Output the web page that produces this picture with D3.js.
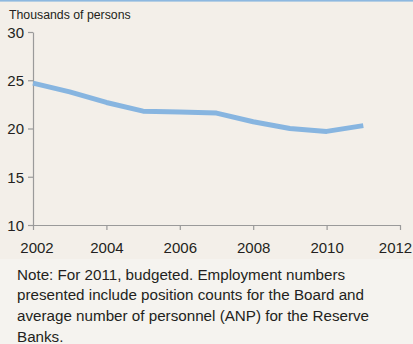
<!DOCTYPE html>
<html>
<head>
<meta charset="utf-8">
<script src="https://cdn.jsdelivr.net/npm/d3@7"></script>
<style>
  body { margin: 0; background: #F5F3EF; }
  svg { display: block; font-family: "Liberation Sans", Arial, sans-serif; }
  .axis path, .axis line { stroke: #9a9a9a; stroke-width: 1.2; }
  .axis text { fill: #231f20; font-size: 15px; }
</style>
</head>
<body>
<script>
var width = 413, height = 344;

var years = [2002, 2003, 2004, 2005, 2006, 2007, 2008, 2009, 2010, 2011];
var persons = [24.7, 23.8, 22.7, 21.8, 21.7, 21.6, 20.7, 20.0, 19.7, 20.3];
var xTicks = [2002, 2004, 2006, 2008, 2010, 2012];
var yTicks = [10, 15, 20, 25, 30];
var unitLabel = "Thousands of persons";
var noteLines = [
  "Note: For 2011, budgeted. Employment numbers",
  "presented include position counts for the Board and",
  "average number of personnel (ANP) for the Reserve",
  "Banks."
];

var svg = d3.select("body").append("svg")
  .attr("width", width)
  .attr("height", height);

// chart panel background + top rule
svg.append("rect").attr("x", 0).attr("y", 0)
  .attr("width", width).attr("height", 259).attr("fill", "#F3EFE9");
svg.append("rect").attr("x", 0).attr("y", 0)
  .attr("width", width).attr("height", 1.6).attr("fill", "#8DB8E0");

var x = d3.scaleLinear().domain([2002, 2012]).range([33, 400]);
var y = d3.scaleLinear().domain([10, 30]).range([225, 32]);

svg.append("text")
  .attr("x", 9).attr("y", 19)
  .attr("font-size", 12.3).attr("fill", "#231f20")
  .text(unitLabel);

svg.append("g").attr("class", "axis")
  .attr("transform", "translate(33,0)")
  .call(d3.axisLeft(y).tickValues(yTicks).tickSize(5).tickPadding(4)
    .tickFormat(d3.format("d")).tickSizeOuter(0))
  .call(function(g) { g.selectAll("text").attr("dy", "0.36em"); });

svg.append("g").attr("class", "axis")
  .attr("transform", "translate(0,225)")
  .call(d3.axisBottom(x).tickValues(xTicks).tickSize(5).tickPadding(12)
    .tickFormat(d3.format("d")).tickSizeOuter(0))
  .call(function(g) {
    // keep the end labels inside the panel
    g.selectAll(".tick text").attr("dx", function(d) {
      return d === 2002 ? 3.5 : d === 2012 ? -5 : 0;
    });
  });

var line = d3.line()
  .x(function(d, i) { return x(years[i]); })
  .y(function(d) { return y(d); });

svg.append("path")
  .datum(persons)
  .attr("d", line)
  .attr("fill", "none")
  .attr("stroke", "#87B5E0")
  .attr("stroke-width", 5)
  .attr("stroke-linejoin", "round");

svg.append("g").selectAll("text").data(noteLines)
  .enter().append("text")
  .attr("x", 17)
  .attr("y", function(d, i) { return 279.5 + i * 20.8; })
  .attr("font-size", 15.2)
  .attr("fill", "#231f20")
  .text(function(d) { return d; });
</script>
</body>
</html>
